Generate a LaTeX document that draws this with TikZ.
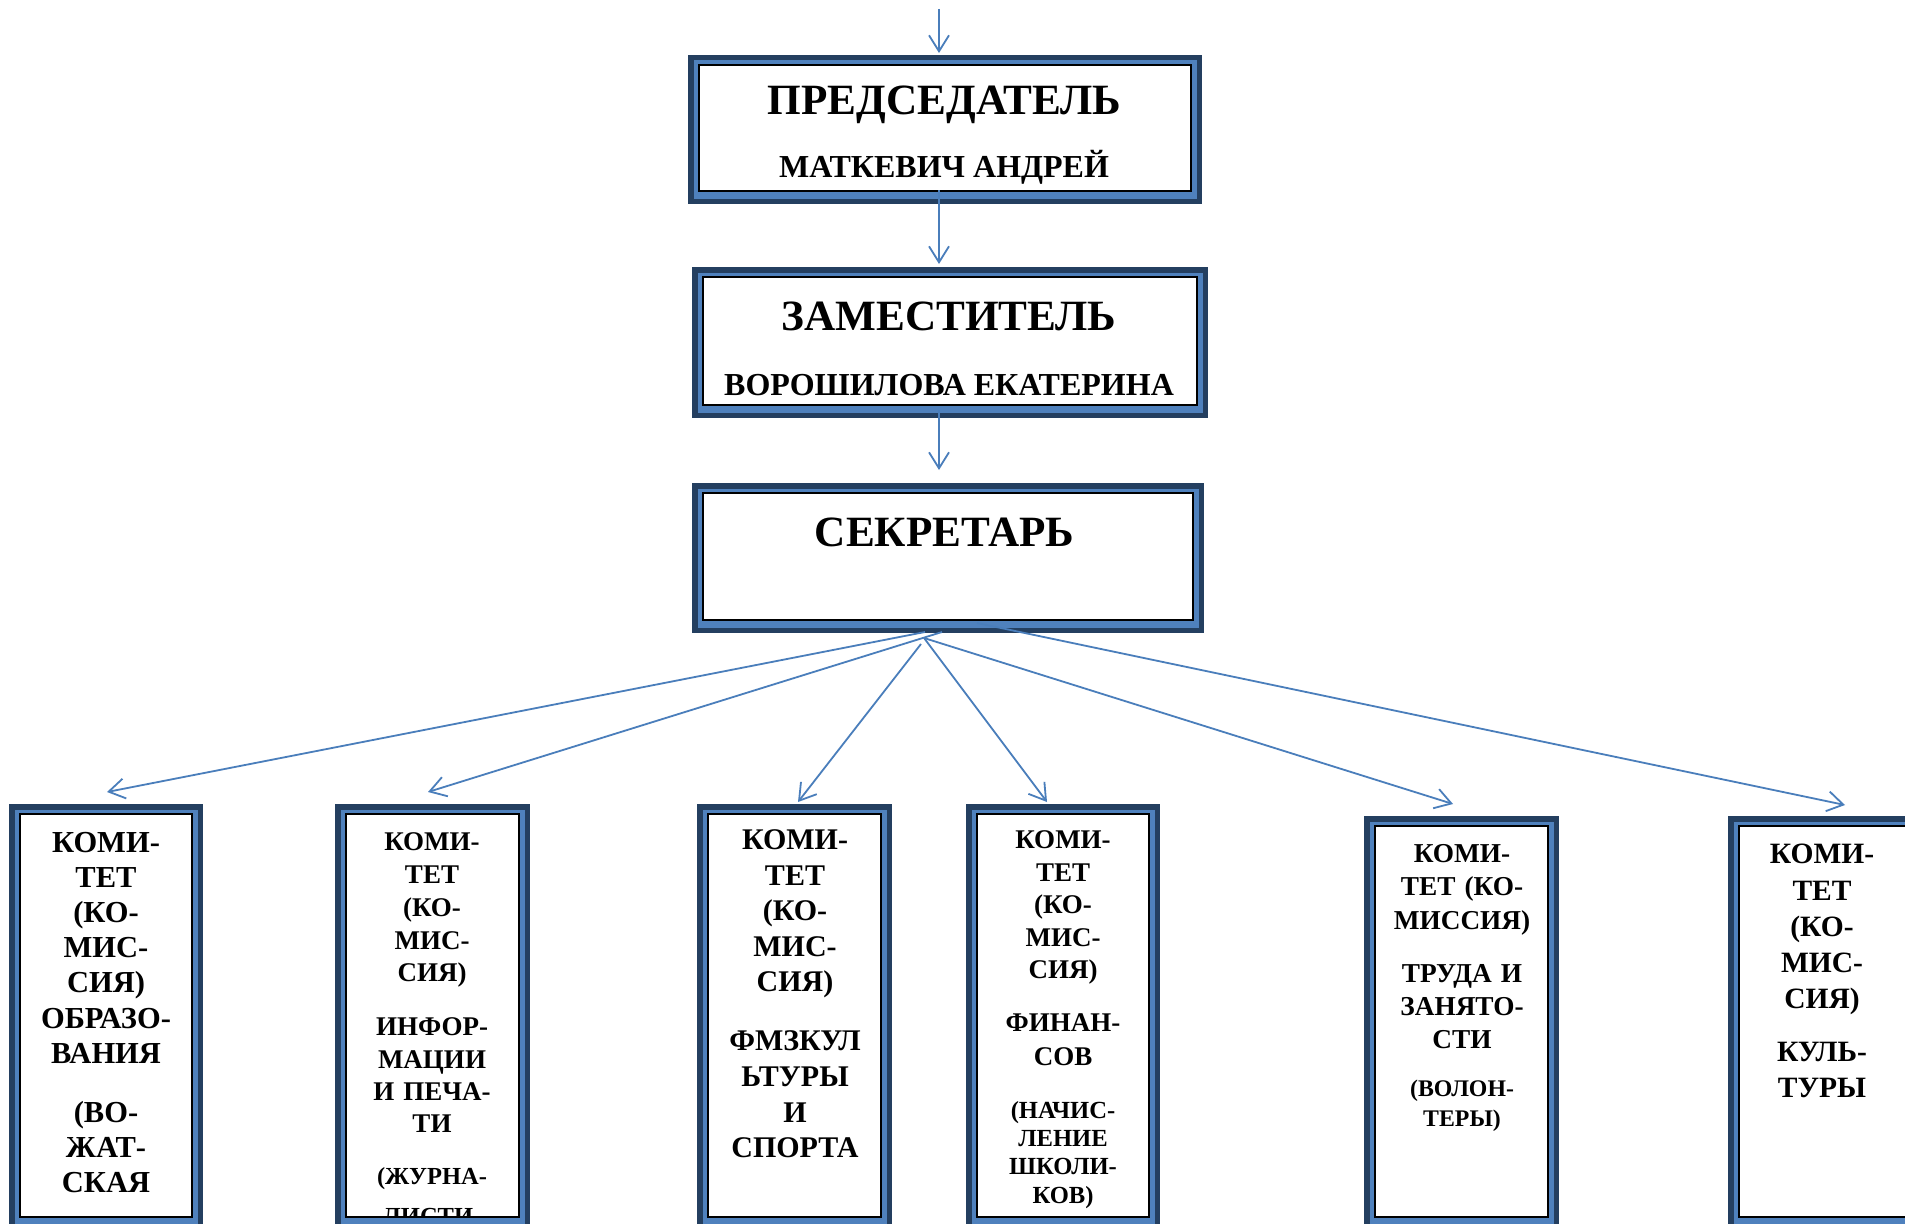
\documentclass[tikz,border=0pt]{standalone}
\usepackage{fontspec}
\setmainfont{Liberation Serif}
\usetikzlibrary{arrows.meta}
\definecolor{navy}{HTML}{243F60}
\definecolor{band}{HTML}{4F81BD}
\definecolor{arrowc}{HTML}{4A7EBB}
\newcommand\kf[2]{\fontsize{#1}{#2}\selectfont\bfseries}
\newcommand\orgframe[5]{%
  \fill[navy] ({#2},{#3}) rectangle ({#4},{#5});
  \fill[band] ({#2+5.5},{#3+5.5}) rectangle ({#4-5.5},{#5-5.5});
  \node[innerbox, minimum width={#4-#2-22}, minimum height={#5-#3-23}] (#1) at ({#2+11},{#3+10}) {};
}
\tikzset{
  innerbox/.style={draw=black, fill=white, line width=1.3pt, inner sep=0pt, outer sep=0pt, anchor=north west, rectangle},
  conn/.style={draw=arrowc, line width=1.8pt, -{Straight Barb[length=16pt,width=20pt]}},
  title/.style={font=\kf{43.2}{52}, anchor=base, inner sep=0pt},
  person/.style={font=\kf{32}{38}, anchor=base, inner sep=0pt},
  para/.style={text width=190pt, align=center, inner sep=0pt, anchor=base}
}
\begin{document}
\begin{tikzpicture}[x=1pt,y=-1pt]
\useasboundingbox (0,0) rectangle (1905,1223);
\clip (0,0) rectangle (1905,1223);
\fill[white] (0,0) rectangle (1905,1223);

% top boxes
\orgframe{pres}{688}{55}{1202}{204}
\orgframe{zam}{692}{267}{1208}{418}
\orgframe{sec}{692}{483}{1204}{633}

\node[title] (presT) at (944.6,114.5) {ПРЕДСЕДАТЕЛЬ};
\node[person] (presN) at (944,177.5) {МАТКЕВИЧ АНДРЕЙ};
\node[title] (zamT) at (949,330) {ЗАМЕСТИТЕЛЬ};
\node[person] (zamN) at (949,395.5) {ВОРОШИЛОВА ЕКАТЕРИНА};
\node[title] (secT) at (944.6,546.5) {СЕКРЕТАРЬ};

% bottom boxes
\orgframe{k1}{9}{804}{203}{1230}
\orgframe{k2}{335}{804}{530}{1230}
\orgframe{k3}{697}{804}{892}{1230}
\orgframe{k4}{966}{804}{1160}{1230}
\orgframe{k5}{1364}{816}{1559}{1230}
\orgframe{k6}{1728}{816}{1923}{1230}

\node[para, font=\kf{30.5}{35.2}] (k1a) at (106,852.1) {КОМИ-\\ТЕТ\\(КО-\\МИС-\\СИЯ)\\ОБРАЗО-\\ВАНИЯ};
\node[para, font=\kf{30.5}{35.2}] (k1b) at (106,1122.5) {(ВО-\\ЖАТ-\\СКАЯ};

\node[para, font=\kf{27}{32.7}] (k2a) at (432,850.9) {КОМИ-\\ТЕТ\\(КО-\\МИС-\\СИЯ)};
\node[para, font=\kf{27}{32.3}] (k2b) at (432,1035.9) {ИНФОР-\\МАЦИИ\\И ПЕЧА-\\ТИ};
\begin{scope}
\clip (346,814) rectangle (519,1217);
\node[para, font=\kf{24.5}{40}] (k2c) at (432,1184.1) {(ЖУРНА-\\ЛИСТИ-};
\end{scope}

\node[para, font=\kf{30}{35.5}] (k3a) at (795,849.9) {КОМИ-\\ТЕТ\\(КО-\\МИС-\\СИЯ)};
\node[para, font=\kf{30}{35.6}] (k3b) at (795,1050.9) {ФМЗКУЛ\\ЬТУРЫ\\И\\СПОРТА};

\node[para, font=\kf{27}{32.5}] (k4a) at (1063,848.9) {КОМИ-\\ТЕТ\\(КО-\\МИС-\\СИЯ)};
\node[para, font=\kf{27}{34}] (k4b) at (1063,1031.9) {ФИНАН-\\СОВ};
\node[para, font=\kf{24.6}{28.3}] (k4c) at (1063,1118.1) {(НАЧИС-\\ЛЕНИЕ\\ШКОЛИ-\\КОВ)};

\node[para, font=\kf{27.3}{33.5}] (k5a) at (1462,862) {КОМИ-\\ТЕТ (КО-\\МИССИЯ)};
\node[para, font=\kf{27.3}{33}] (k5b) at (1462,982) {ТРУДА И\\ЗАНЯТО-\\СТИ};
\node[para, font=\kf{23.8}{30}] (k5c) at (1462,1096.9) {(ВОЛОН-\\ТЕРЫ)};

\node[para, font=\kf{29.5}{36.2}] (k6a) at (1822,863.8) {КОМИ-\\ТЕТ\\(КО-\\МИС-\\СИЯ)};
\node[para, font=\kf{29.5}{36}] (k6b) at (1822,1061.8) {КУЛЬ-\\ТУРЫ};

% connectors
\coordinate (c0s) at (939,9);   \coordinate (c0t) at (939,53);
\coordinate (c1s) at (939,190); \coordinate (c1t) at (939,264);
\coordinate (c2s) at (939,410); \coordinate (c2t) at (939,470);
\draw[conn] (c0s) -- (c0t);
\draw[conn] (c1s) -- (c1t);
\draw[conn] (c2s) -- (c2t);

\coordinate (s1) at (925,632);  \coordinate (t1) at (107,792);
\coordinate (s2) at (942,632);  \coordinate (t2) at (428,792);
\coordinate (s3) at (921,644);  \coordinate (t3) at (798,802);
\coordinate (s4) at (924,638);  \coordinate (t4) at (1047,802);
\coordinate (s5) at (924,638);  \coordinate (t5) at (1453,804);
\coordinate (s6) at (977,623);  \coordinate (t6) at (1845,805);
\foreach \i in {1,...,6} {\draw[conn] (s\i) -- (t\i);}
\end{tikzpicture}
\end{document}
